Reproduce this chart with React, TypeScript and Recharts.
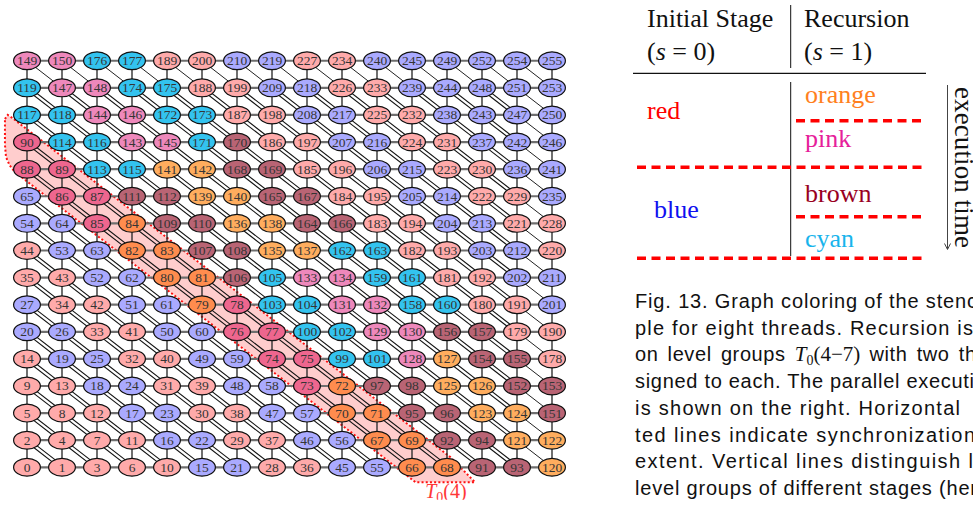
import React from 'react';
import { ComposedChart, Scatter, XAxis, YAxis } from 'recharts';

// node numbers, top row (y = 15) first
const nodeValues: number[][] = [
  [149, 150, 176, 177, 189, 200, 210, 219, 227, 234, 240, 245, 249, 252, 254, 255],
  [119, 147, 148, 174, 175, 188, 199, 209, 218, 226, 233, 239, 244, 248, 251, 253],
  [117, 118, 144, 146, 172, 173, 187, 198, 208, 217, 225, 232, 238, 243, 247, 250],
  [90, 114, 116, 143, 145, 171, 170, 186, 197, 207, 216, 224, 231, 237, 242, 246],
  [88, 89, 113, 115, 141, 142, 168, 169, 185, 196, 206, 215, 223, 230, 236, 241],
  [65, 86, 87, 111, 112, 139, 140, 165, 167, 184, 195, 205, 214, 222, 229, 235],
  [54, 64, 85, 84, 109, 110, 136, 138, 164, 166, 183, 194, 204, 213, 221, 228],
  [44, 53, 63, 82, 83, 107, 108, 135, 137, 162, 163, 182, 193, 203, 212, 220],
  [35, 43, 52, 62, 80, 81, 106, 105, 133, 134, 159, 161, 181, 192, 202, 211],
  [27, 34, 42, 51, 61, 79, 78, 103, 104, 131, 132, 158, 160, 180, 191, 201],
  [20, 26, 33, 41, 50, 60, 76, 77, 100, 102, 129, 130, 156, 157, 179, 190],
  [14, 19, 25, 32, 40, 49, 59, 74, 75, 99, 101, 128, 127, 154, 155, 178],
  [9, 13, 18, 24, 31, 39, 48, 58, 73, 72, 97, 98, 125, 126, 152, 153],
  [5, 8, 12, 17, 23, 30, 38, 47, 57, 70, 71, 95, 96, 123, 124, 151],
  [2, 4, 7, 11, 16, 22, 29, 37, 46, 56, 67, 69, 92, 94, 121, 122],
  [0, 1, 3, 6, 10, 15, 21, 28, 36, 45, 55, 66, 68, 91, 93, 120],
];

// colour group of every node, same layout
// R red, B blue, O orange, L light orange, D dark pink, P pink, W brown, C cyan
const nodeGroups: string[] = [
  'PPCCRRBBRRBBBBBB',
  'CPPCCRRBBRRBBBBB',
  'CCPPCCRRBBRRBBBB',
  'DCCPPCWRRBBRRBBB',
  'DDCCLLWWRRBBRRBB',
  'BDDWWLLWWRRBBRRB',
  'BBDOWWLLWWRRBBRR',
  'RBBOOWWLLCCRRBBR',
  'RRBBOOWCPPCCRRBB',
  'BRRBBODCCPPCCRRB',
  'BBRRBBDDCCPPWWRR',
  'RBBRRBBDDCCPLWWR',
  'RRBBRRBBDOWWLLWW',
  'RRRBBRRBBOOWWLLW',
  'RRRRBBRRBBOOWWLL',
  'RRRRRBBRRBBOOWWL',
];

const groupFill: Record<string, string> = {
  R: '#FFAAAA',
  B: '#AAAAFF',
  O: '#FF8C4E',
  L: '#FFAD5E',
  D: '#EE668E',
  P: '#EE88BB',
  W: '#B96474',
  C: '#33C3EF',
};

// outline of the highlighted level group T0(4)
const bandOutline = [
  { x: -0.63, y: 12.85 },
  { x: -0.55, y: 13.0 },
  { x: -0.42, y: 12.89 },
  { x: 12.1, y: 0.37 },
  { x: 12.8, y: -0.55 },
  { x: 11.1, y: -0.55 },
  { x: -0.35, y: 10.9 },
  { x: -0.5, y: 11.15 },
  { x: -0.6, y: 11.45 },
  { x: -0.63, y: 11.9 },
];
const bandLabel = [{ x: 11.97, y: -1.13 }];

const N = nodeValues.length;
const nodes = nodeValues.flatMap((row, i) =>
  row.map((v, c) => ({ x: c, y: N - 1 - i, v, g: nodeGroups[i][c] }))
);
const idx = Array.from({ length: N }, (_, i) => i);
const rowLines = idx.map((r) => idx.map((c) => ({ x: c, y: r })));
const colLines = idx.map((c) => idx.map((r) => ({ x: c, y: r })));
const diagLines = Array.from({ length: 2 * N - 3 }, (_, i) => i + 1).map((k) => ({
  k,
  pts: idx.filter((c) => k - c >= 0 && k - c < N).map((c) => ({ x: c, y: k - c })),
}));

const noDot = () => <g />;

function diagRenderer(k: number) {
  return (props: any) => {
    const pts = props.points || [];
    const out: React.ReactNode[] = [];
    for (let i = 0; i < pts.length - 1; i++) {
      const a = pts[i];
      const b = pts[i + 1];
      const single = k >= N - 1 && (i === 0 || i === pts.length - 2);
      if (single) {
        out.push(<line key={i} x1={a.x} y1={a.y} x2={b.x} y2={b.y} stroke="#222" strokeWidth={1} />);
      } else {
        const dx = b.x - a.x;
        const dy = b.y - a.y;
        const len = Math.hypot(dx, dy) || 1;
        const nx = (-dy / len) * 1.7;
        const ny = (dx / len) * 1.7;
        out.push(
          <line key={i + 'a'} x1={a.x + nx} y1={a.y + ny} x2={b.x + nx} y2={b.y + ny} stroke="#111" strokeWidth={1.1} />,
          <line key={i + 'b'} x1={a.x - nx} y1={a.y - ny} x2={b.x - nx} y2={b.y - ny} stroke="#111" strokeWidth={1.1} />
        );
      }
    }
    return <g>{out}</g>;
  };
}

const bandShape = (props: any) => {
  const pts = props.points || [];
  if (!pts.length) return <g />;
  const d = pts.map((p: any, i: number) => `${i ? 'L' : 'M'}${p.x},${p.y}`).join(' ') + ' Z';
  return <path d={d} fill="#FFCDCD" stroke="#FF1010" strokeWidth={2} strokeDasharray="2 2.2" />;
};

const NodeShape = (props: any) => {
  const { cx, cy } = props;
  const p = props.payload || props;
  return (
    <g>
      <ellipse cx={cx} cy={cy} rx={13.4} ry={8.9} fill={groupFill[p.g]} stroke="#111" strokeWidth={1.2} />
      <text x={cx} y={cy + 4.5} textAnchor="middle" fontFamily="'Liberation Serif', serif" fontSize={13.5} fill="#353535">
        {p.v}
      </text>
    </g>
  );
};

const LabelShape = (props: any) => (
  <text x={props.cx} y={props.cy} textAnchor="middle" fontFamily="'Liberation Serif', serif" fontSize={20} fill="#FF3838">
    <tspan fontStyle="italic">T</tspan>
    <tspan fontSize={14} dy={4}>0</tspan>
    <tspan dy={-4}>(4)</tspan>
  </text>
);

const serif = "'Liberation Serif', serif";
const sans = "'Liberation Sans', sans-serif";

// caption lines as far as the page shows them, with the width each one takes
const captionLines: [string, number][] = [
  ['Fig. 13.  Graph coloring of the stenc', 342],
  ['ple for eight threads. Recursion is', 338],
  ['', 0],
  ['signed to each. The parallel executi', 339],
  ['is shown on the right. Horizontal', 325],
  ['ted lines indicate synchronization', 340],
  ['extent. Vertical lines distinguish l', 338],
  ['level groups of different stages (her', 342],
];

function Panel() {
  const dash = { stroke: '#FF0000', strokeWidth: 3.5, strokeDasharray: '9 5.5' };
  return (
    <svg width={973} height={505} style={{ position: 'absolute', left: 0, top: 0 }}>
      <g fontFamily={serif} fontSize={26} fill="#111">
        <text x={647} y={27}>Initial Stage</text>
        <text x={647} y={59.5}>(<tspan fontStyle="italic">s</tspan> = 0)</text>
        <text x={804} y={27}>Recursion</text>
        <text x={804} y={59.5}>(<tspan fontStyle="italic">s</tspan> = 1)</text>
        <text x={647} y={119} fill="#FF0000">red</text>
        <text x={654} y={218} fill="#1010F0">blue</text>
        <text x={805} y={103} fill="#FF8020">orange</text>
        <text x={805} y={147} fill="#E6209A">pink</text>
        <text x={805} y={202} fill="#990022">brown</text>
        <text x={805} y={247} fill="#18B4EC">cyan</text>
        <text x={955} y={87} fontSize={27} textLength={161} lengthAdjust="spacing" transform="rotate(90 955 87)">
          execution time
        </text>
      </g>
      <line x1={790.7} y1={5} x2={790.7} y2={68} stroke="#111" strokeWidth={1} />
      <line x1={790.7} y1={82} x2={790.7} y2={256} stroke="#111" strokeWidth={1} />
      <line x1={633} y1={73.3} x2={926} y2={73.3} stroke="#111" strokeWidth={1.2} />
      <line x1={796} y1={120.7} x2={926} y2={120.7} {...dash} />
      <line x1={637} y1={167.3} x2={926} y2={167.3} {...dash} />
      <line x1={796} y1={216.7} x2={926} y2={216.7} {...dash} />
      <line x1={637} y1={258.3} x2={926} y2={258.3} {...dash} />
      <line x1={947.5} y1={85} x2={947.5} y2={249} stroke="#444" strokeWidth={1} />
      <path d="M944.5,243.5 L947.5,249.5 L950.5,243.5" fill="none" stroke="#444" strokeWidth={1} />
      <g fontFamily={sans} fontSize={20} fill="#111">
        {captionLines.map(([t, w], i) =>
          t ? (
            <text key={i} x={635} y={308 + i * 26.7} textLength={w} lengthAdjust="spacing">
              {t}
            </text>
          ) : null
        )}
        <text x={635} y={361.4} letterSpacing={0.6} wordSpacing={3}>
          on level groups{' '}
          <tspan fontFamily={serif} fontSize={21} fontStyle="italic" letterSpacing={0}>T</tspan>
          <tspan fontFamily={serif} fontSize={14} dy={4} letterSpacing={0}>0</tspan>
          <tspan fontFamily={serif} fontSize={21} dy={-4} letterSpacing={0}>(4−7)</tspan> with two th
        </text>
      </g>
    </svg>
  );
}

export default function App() {
  return (
    <div style={{ position: 'fixed', left: 0, top: 0, width: 973, height: 505, overflow: 'hidden', background: '#fff' }}>
      <div style={{ position: 'absolute', left: 0, top: 0 }}>
        <ComposedChart width={600} height={505} margin={{ top: 41.8, right: 23.5, bottom: 5.2, left: 2.5 }}>
          <XAxis type="number" dataKey="x" domain={[-0.7, 15.7]} hide allowDataOverflow />
          <YAxis type="number" dataKey="y" domain={[-1.2, 15.7]} hide allowDataOverflow />
          <Scatter data={bandOutline} fill="none" shape={noDot} line={bandShape} isAnimationActive={false} legendType="none" />
          {rowLines.map((pts, i) => (
            <Scatter key={'h' + i} data={pts} fill="none" shape={noDot} line={{ stroke: '#6E6E6E', strokeWidth: 2.2 }} isAnimationActive={false} legendType="none" />
          ))}
          {colLines.map((pts, i) => (
            <Scatter key={'v' + i} data={pts} fill="none" shape={noDot} line={{ stroke: '#222', strokeWidth: 1.3 }} isAnimationActive={false} legendType="none" />
          ))}
          {diagLines.map((d) => (
            <Scatter key={'d' + d.k} data={d.pts} fill="none" shape={noDot} line={diagRenderer(d.k)} isAnimationActive={false} legendType="none" />
          ))}
          <Scatter data={nodes} shape={NodeShape} isAnimationActive={false} legendType="none" />
          <Scatter data={bandLabel} shape={LabelShape} isAnimationActive={false} legendType="none" />
        </ComposedChart>
      </div>
      <Panel />
    </div>
  );
}
